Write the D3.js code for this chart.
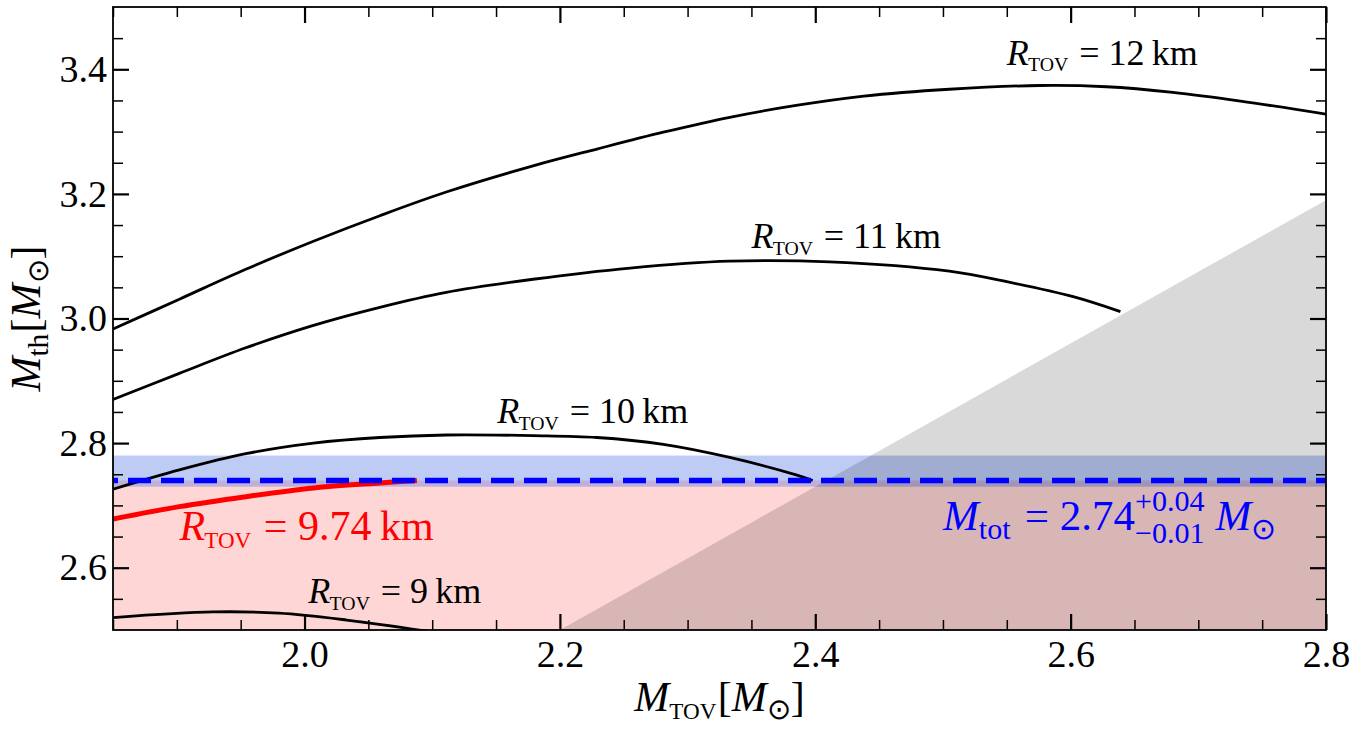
<!DOCTYPE html>
<html>
  <head>
    <meta charset="UTF-8">
    <title>M_th vs M_TOV</title>
    <script src="https://cdnjs.cloudflare.com/ajax/libs/d3/7.8.5/d3.min.js"></script>
    <style type="text/css">
      body { margin: 0px; background: #fff; overflow: hidden; }
      .tick line { stroke: #000; }
      .domain { display: none; }
    </style>
  </head>
  <body>
    <div id="chart"></div>
    <script>
      // axis ranges and ticks
      const xDomain = [1.85, 2.8];
      const yDomain = [2.5, 3.5];
      const xMajorTicks = [2.0, 2.2, 2.4, 2.6, 2.8];
      const xMinorTicks = [1.85, 1.9, 1.95, 2.05, 2.1, 2.15, 2.25, 2.3, 2.35, 2.45, 2.5, 2.55, 2.65, 2.7, 2.75];
      const yMajorTicks = [2.6, 2.8, 3.0, 3.2, 3.4];
      const yMinorTicks = [2.55, 2.65, 2.7, 2.75, 2.85, 2.9, 2.95, 3.05, 3.1, 3.15, 3.25, 3.3, 3.35, 3.45];

      // M_th(M_TOV) curves for fixed R_TOV
      const r12Mtov = [1.85, 1.902, 1.954, 2.007, 2.059, 2.111, 2.179, 2.229, 2.281, 2.333, 2.385, 2.438, 2.505, 2.576, 2.628, 2.680, 2.733, 2.8];
      const r12Mth  = [2.983, 3.031, 3.079, 3.124, 3.165, 3.203, 3.245, 3.272, 3.299, 3.323, 3.342, 3.357, 3.368, 3.374, 3.372, 3.363, 3.349, 3.328];
      const r11Mtov = [1.85, 1.902, 1.954, 2.007, 2.059, 2.111, 2.179, 2.255, 2.333, 2.411, 2.505, 2.550, 2.602, 2.639];
      const r11Mth  = [2.870, 2.912, 2.953, 2.989, 3.018, 3.042, 3.063, 3.081, 3.092, 3.091, 3.076, 3.059, 3.035, 3.011];
      const r10Mtov = [1.85, 1.902, 1.954, 2.007, 2.059, 2.111, 2.179, 2.229, 2.281, 2.333, 2.385, 2.398];
      const r10Mth  = [2.726, 2.757, 2.783, 2.800, 2.809, 2.813, 2.812, 2.809, 2.798, 2.777, 2.749, 2.740];
      const r9Mtov  = [1.85, 1.928, 1.980, 2.033, 2.093, 2.12];
      const r9Mth   = [2.520, 2.529, 2.527, 2.516, 2.499, 2.49];
      const r974Mtov = [1.85, 1.902, 1.954, 2.007, 2.059, 2.088];
      const r974Mth  = [2.678, 2.698, 2.714, 2.728, 2.736, 2.740];

      // measured total mass and its errors
      const mTot = 2.74, mTotPlus = 0.04, mTotMinus = 0.01;

      // excluded (grey) triangle
      const greyMtov = [2.2, 2.8, 2.8];
      const greyMth  = [2.5, 3.19, 2.5];

      const W = 1356, H = 733;
      const margin = {top: 7, right: 30, bottom: 103, left: 113};
      const FONT = '"Liberation Serif"';

      const svg = d3.select("#chart").append("svg")
        .attr("width", W).attr("height", H);

      const x = d3.scaleLinear().domain(xDomain).range([margin.left, W - margin.right]);
      const y = d3.scaleLinear().domain(yDomain).range([H - margin.bottom, margin.top]);

      svg.append("defs").append("clipPath").attr("id", "plotclip")
        .append("rect")
        .attr("x", x(xDomain[0])).attr("y", y(yDomain[1]))
        .attr("width", x(xDomain[1]) - x(xDomain[0]))
        .attr("height", y(yDomain[0]) - y(yDomain[1]));

      const plot = svg.append("g").attr("clip-path", "url(#plotclip)");

      // excluded region below M_tot
      plot.append("rect")
        .attr("x", x(xDomain[0])).attr("y", y(mTot))
        .attr("width", x(xDomain[1]) - x(xDomain[0]))
        .attr("height", y(yDomain[0]) - y(mTot))
        .attr("fill", "rgba(255,0,0,0.16)");

      // M_tot uncertainty band
      plot.append("rect")
        .attr("x", x(xDomain[0])).attr("y", y(mTot + mTotPlus))
        .attr("width", x(xDomain[1]) - x(xDomain[0]))
        .attr("height", y(mTot - mTotMinus) - y(mTot + mTotPlus))
        .attr("fill", "rgba(65,105,225,0.35)");

      // grey triangle
      plot.append("path")
        .attr("d", d3.line()(greyMtov.map((d, i) => [x(d), y(greyMth[i])])) + "Z")
        .attr("fill", "rgba(0,0,0,0.15)");

      const line = d3.line().curve(d3.curveCatmullRom.alpha(0.5))
        .x(d => x(d[0])).y(d => y(d[1]));
      const zip = (a, b) => a.map((d, i) => [d, b[i]]);

      const curves = [
        {xs: r12Mtov, ys: r12Mth, color: "#000", w: 2.8},
        {xs: r11Mtov, ys: r11Mth, color: "#000", w: 2.8},
        {xs: r10Mtov, ys: r10Mth, color: "#000", w: 2.8},
        {xs: r9Mtov,  ys: r9Mth,  color: "#000", w: 2.8},
        {xs: r974Mtov, ys: r974Mth, color: "#ff0000", w: 5}
      ];
      plot.selectAll("path.curve").data(curves).enter()
        .append("path").attr("class", "curve")
        .attr("d", d => line(zip(d.xs, d.ys)))
        .attr("fill", "none")
        .attr("stroke", d => d.color)
        .attr("stroke-width", d => d.w);

      // dashed M_tot line
      plot.append("line")
        .attr("x1", x(xDomain[0])).attr("x2", x(xDomain[1]))
        .attr("y1", y(mTot)).attr("y2", y(mTot))
        .attr("stroke", "#0000ff").attr("stroke-width", 5.5)
        .attr("stroke-dasharray", "23,10").attr("stroke-dashoffset", 18);

      // axes, ticks pointing inwards on all four sides
      const fmt = d3.format(".1f");
      const bottomY = y(yDomain[0]), topY = y(yDomain[1]);
      const leftX = x(xDomain[0]), rightX = x(xDomain[1]);

      const addAxis = (axis, tr, major) => {
        const g = svg.append("g").attr("transform", tr).call(axis);
        g.attr("font-family", null).attr("font-size", null);
        g.selectAll(".tick line").attr("stroke-width", major ? 2.2 : 1.5);
        g.selectAll(".tick text").attr("fill", "#000")
          .attr("font-size", 38).style("font-family", FONT);
        return g;
      };
      addAxis(d3.axisBottom(x).tickValues(xMajorTicks).tickSize(-16).tickPadding(10).tickFormat(fmt), `translate(0,${bottomY})`, true);
      addAxis(d3.axisBottom(x).tickValues(xMinorTicks).tickSize(-10).tickFormat(""), `translate(0,${bottomY})`, false);
      addAxis(d3.axisTop(x).tickValues(xMajorTicks).tickSize(-16).tickFormat(""), `translate(0,${topY})`, true);
      addAxis(d3.axisTop(x).tickValues(xMinorTicks).tickSize(-10).tickFormat(""), `translate(0,${topY})`, false);
      addAxis(d3.axisLeft(y).tickValues(yMajorTicks).tickSize(-16).tickPadding(6).tickFormat(fmt), `translate(${leftX},0)`, true);
      addAxis(d3.axisLeft(y).tickValues(yMinorTicks).tickSize(-10).tickFormat(""), `translate(${leftX},0)`, false);
      addAxis(d3.axisRight(y).tickValues(yMajorTicks).tickSize(-16).tickFormat(""), `translate(${rightX},0)`, true);
      addAxis(d3.axisRight(y).tickValues(yMinorTicks).tickSize(-10).tickFormat(""), `translate(${rightX},0)`, false);

      svg.append("rect")
        .attr("x", leftX).attr("y", topY)
        .attr("width", rightX - leftX).attr("height", bottomY - topY)
        .attr("fill", "none").attr("stroke", "#000").attr("stroke-width", 1.8);

      // small helper for LaTeX-like labels: parts laid out left to right
      function mathText(parent, px, py, parts, size, color, anchor) {
        const g = parent.append("g").attr("fill", color);
        let cx = 0, lastStart = 0;
        parts.forEach(p => {
          const t = g.append("text")
            .attr("font-size", size * (p.s || 1))
            .style("font-family", FONT)
            .style("font-style", p.it ? "italic" : "normal")
            .attr("y", (p.dy || 0) * size)
            .text(p.t);
          const w = t.node().getComputedTextLength();
          if (p.stack) {
            t.attr("x", lastStart);
            cx = Math.max(cx, lastStart + w);
          } else {
            cx += (p.pad || 0) * size;
            t.attr("x", cx);
            lastStart = cx;
            cx += w;
          }
        });
        const off = anchor === "middle" ? -cx / 2 : 0;
        g.attr("transform", `translate(${px + off},${py})`);
        return g;
      }

      const rLabel = (km) => [
        {t: "R", it: true},
        {t: "TOV", s: 0.55, dy: 0.18, pad: -0.02},
        {t: "\u00a0=\u00a0" + km + "\u2009km", pad: 0.05}
      ];
      mathText(svg, x(2.550), y(3.407), rLabel("12"), 36, "#000");
      mathText(svg, x(2.350), y(3.113), rLabel("11"), 36, "#000");
      mathText(svg, x(2.151), y(2.832), rLabel("10"), 36, "#000");
      mathText(svg, x(2.003), y(2.543), rLabel("9"), 36, "#000");
      mathText(svg, x(1.902), y(2.644), rLabel("9.74"), 42, "#ff0000");

      mathText(svg, x(2.500), y(2.660), [
        {t: "M", it: true},
        {t: "tot", s: 0.7, dy: 0.2},
        {t: "\u00a0=\u00a02.74", pad: 0.08},
        {t: "+0.04", s: 0.7, dy: -0.45},
        {t: "\u22120.01", s: 0.7, dy: 0.3, stack: true},
        {t: "M", it: true, pad: 0.25},
        {t: "\u2299", s: 0.7, dy: 0.2}
      ], 43, "#0000ff");

      // axis titles
      mathText(svg, (leftX + rightX) / 2, 711, [
        {t: "M", it: true},
        {t: "TOV", s: 0.55, dy: 0.18},
        {t: "[", pad: 0.03},
        {t: "M", it: true},
        {t: "\u2299", s: 0.7, dy: 0.2},
        {t: "]"}
      ], 42, "#000", "middle");

      const yTitle = svg.append("g").attr("transform", `translate(40,${(topY + bottomY) / 2}) rotate(-90)`);
      mathText(yTitle, 0, 0, [
        {t: "M", it: true},
        {t: "th", s: 0.7, dy: 0.2},
        {t: "[", pad: 0.03},
        {t: "M", it: true},
        {t: "\u2299", s: 0.7, dy: 0.2},
        {t: "]"}
      ], 42, "#000", "middle");
    </script>
  </body>
</html>
